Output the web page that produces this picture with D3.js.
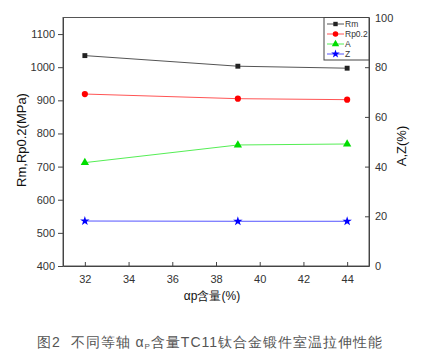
<!DOCTYPE html>
<html>
<head>
<meta charset="utf-8">
<script src="https://cdn.jsdelivr.net/npm/d3@7"></script>
<style>
  body { margin: 0; background: #fff; }
  text { font-family: "Liberation Sans", Arial, sans-serif; }
</style>
</head>
<body>
<svg id="chart" width="421" height="360"></svg>
<script>
// data
var alphaP = [32, 39, 44];
var rm = [1035, 1003, 997];
var rp02 = [919, 905, 902];
var elongA = [41.6, 48.7, 49.1];
var reductZ = [18.1, 18.0, 18.0];

var xTicks = [32, 34, 36, 38, 40, 42, 44];
var leftTicks = [400, 500, 600, 700, 800, 900, 1000, 1100];
var rightTicks = [0, 20, 40, 60, 80, 100];

var series = [
  { name: "Rm", values: rm, axis: "left", color: "#222", line: "#555", shape: d3.symbolSquare, size: 24 },
  { name: "Rp0.2", values: rp02, axis: "left", color: "#ff0000", line: "#ff5555", shape: d3.symbolCircle, size: 30 },
  { name: "A", values: elongA, axis: "right", color: "#00dd00", line: "#55ee55", shape: d3.symbolTriangle, size: 30 },
  { name: "Z", values: reductZ, axis: "right", color: "#0000ff", line: "#5555ff", shape: d3.symbolStar, size: 28 }
];

var svg = d3.select("#chart");
var pLeft = 63, pRight = 369, pTop = 17.5, pBottom = 266;

var x = d3.scaleLinear().domain([31, 45]).range([pLeft, pRight]);
var yL = d3.scaleLinear().domain([400, 1150]).range([pBottom, pTop]);
var yR = d3.scaleLinear().domain([0, 100]).range([pBottom, pTop]);

// frame
svg.append("rect")
  .attr("x", pLeft).attr("y", pTop)
  .attr("width", pRight - pLeft).attr("height", pBottom - pTop)
  .attr("fill", "none").attr("stroke", "#555").attr("stroke-width", 1);

// axes
var gx = svg.append("g").attr("transform", "translate(0," + pBottom + ")")
  .call(d3.axisBottom(x).tickValues(xTicks).tickFormat(d3.format("d"))
    .tickSizeInner(-4).tickSizeOuter(0).tickPadding(9));
var gl = svg.append("g").attr("transform", "translate(" + pLeft + ",0)")
  .call(d3.axisLeft(yL).tickValues(leftTicks).tickFormat(d3.format("d"))
    .tickSizeInner(5).tickSizeOuter(0).tickPadding(3));
var gr = svg.append("g").attr("transform", "translate(" + pRight + ",0)")
  .call(d3.axisRight(yR).tickValues(rightTicks).tickFormat(d3.format("d"))
    .tickSizeInner(-4).tickSizeOuter(0).tickPadding(6));

[gx, gl, gr].forEach(function (g) {
  g.select(".domain").attr("stroke", "#444");
  g.selectAll(".tick line").attr("stroke", "#444");
  g.selectAll(".tick text")
    .attr("font-family", "Liberation Sans, Arial, sans-serif")
    .attr("font-size", "11px").attr("fill", "#333");
});

// lines and markers
series.forEach(function (s) {
  var y = s.axis == "left" ? yL : yR;
  var line = d3.line()
    .x(function (d, i) { return x(alphaP[i]); })
    .y(function (d) { return y(d); });
  svg.append("path")
    .datum(s.values)
    .attr("d", line)
    .attr("fill", "none")
    .attr("stroke", s.line)
    .attr("stroke-width", 1);
  svg.selectAll(null)
    .data(s.values)
    .enter()
    .append("path")
    .attr("d", d3.symbol().type(s.shape).size(s.size))
    .attr("transform", function (d, i) {
      return "translate(" + x(alphaP[i]) + "," + y(d) + ")";
    })
    .attr("fill", s.color);
});

// legend
var legend = svg.append("g");
legend.append("rect")
  .attr("x", 324).attr("y", pTop)
  .attr("width", pRight - 324).attr("height", 42.5)
  .attr("fill", "#fff").attr("stroke", "#444").attr("stroke-width", 1);
series.forEach(function (s, i) {
  var ly = 24 + i * 10;
  legend.append("line")
    .attr("x1", 327).attr("x2", 344)
    .attr("y1", ly).attr("y2", ly)
    .attr("stroke", s.line).attr("stroke-width", 1);
  legend.append("path")
    .attr("d", d3.symbol().type(s.shape).size(s.size * 0.8))
    .attr("transform", "translate(335.5," + ly + ")")
    .attr("fill", s.color);
  legend.append("text")
    .attr("x", 345).attr("y", ly + 3.2)
    .attr("font-size", "8.5px").attr("fill", "#333")
    .text(s.name);
});

// axis titles
svg.append("text")
  .attr("transform", "translate(26,140) rotate(-90)")
  .attr("text-anchor", "middle")
  .attr("font-size", "13px").attr("fill", "#111")
  .text("Rm,Rp0.2(MPa)");
svg.append("text")
  .attr("transform", "translate(406,146) rotate(-90)")
  .attr("text-anchor", "middle")
  .attr("font-size", "13px").attr("fill", "#111")
  .text("A,Z(%)");
svg.append("text")
  .attr("x", 212).attr("y", 300)
  .attr("text-anchor", "middle")
  .attr("font-size", "12px").attr("fill", "#111")
  .text("αp含量(%)");

// caption
var cap = svg.append("text")
  .attr("x", 210).attr("y", 347)
  .attr("text-anchor", "middle")
  .attr("font-family", "Noto Sans CJK SC, sans-serif")
  .attr("font-size", "14px").attr("fill", "#555")
  .attr("letter-spacing", "1px")
  .style("white-space", "pre");
cap.append("tspan").text("图2\u00a0\u00a0不同等轴\u00a0α");
cap.append("tspan").attr("font-size", "8px").attr("dy", 2).text("P");
cap.append("tspan").attr("dy", -2).text("含量TC11钛合金锻件室温拉伸性能");
</script>
</body>
</html>
